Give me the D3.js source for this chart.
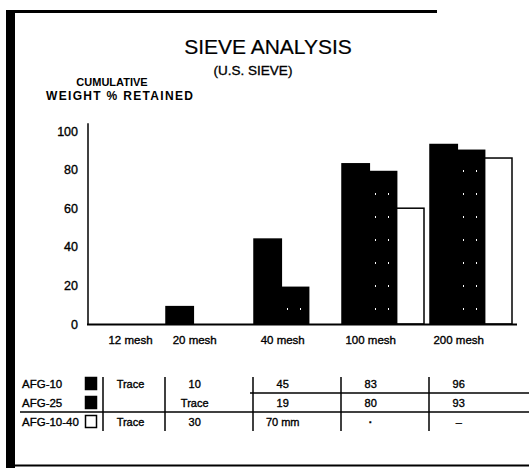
<!DOCTYPE html>
<html>
<head>
<meta charset="utf-8">
<script src="https://cdn.jsdelivr.net/npm/d3@7"></script>
<style>
  html, body { margin: 0; padding: 0; background: #fff; }
  svg { display: block; font-family: "Liberation Sans", Arial, Helvetica, sans-serif; }
  svg text { stroke: #000; stroke-width: 0.35px; }
</style>
</head>
<body>
<div id="chartEl"></div>
<script>
const categories = ['12 mesh', '20 mesh', '40 mesh', '100 mesh', '200 mesh'];
const seriesNames = ['AFG-10', 'AFG-25', 'AFG-10-40'];
const afg10 = [0, 9, 44, 83, 93];
const afg25 = [0, 0, 19, 79, 90];
const afg1040 = [0, 0, 0, 60, 86];
const yTicks = [0, 20, 40, 60, 80, 100];

// table printed under the chart
const afg10Cells = ['Trace', '10', '45', '83', '96'];
const afg25Cells = ['', 'Trace', '19', '80', '93'];
const afg1040Cells = ['Trace', '30', '70 mm', '\u00b7', '\u2013'];

function draw () {
  const width = 529;
  const height = 468;
  const font = '"Liberation Sans", Arial, Helvetica, sans-serif';

  const svg = d3.select('#chartEl').append('svg')
    .attr('width', width)
    .attr('height', height);

  // frame: heavy left edge, top and bottom rules
  svg.append('rect').attr('x', 6).attr('y', 12).attr('width', 9).attr('height', 456).attr('fill', '#000');
  svg.append('line').attr('x1', 6).attr('x2', 437).attr('y1', 11.5).attr('y2', 11.5)
    .attr('stroke', '#000').attr('stroke-width', 3);
  svg.append('line').attr('x1', 15).attr('x2', 529).attr('y1', 465.5).attr('y2', 465.5)
    .attr('stroke', '#000').attr('stroke-width', 2);

  // speckled fill for AFG-25
  const defs = svg.append('defs');
  const pat = defs.append('pattern').attr('id', 'speck')
    .attr('patternUnits', 'userSpaceOnUse').attr('width', 13).attr('height', 23);
  pat.append('rect').attr('width', 13).attr('height', 23).attr('fill', '#000');
  pat.append('rect').attr('x', 7).attr('y', 9).attr('width', 1).attr('height', 2).attr('fill', '#fff');

  const fills = ['#000', 'url(#speck)', '#fff'];

  // titles
  svg.append('text').attr('x', 268).attr('y', 54).attr('text-anchor', 'middle')
    .attr('font-size', 21).style('stroke-width', '0.2px').text('SIEVE ANALYSIS');
  svg.append('text').attr('x', 253).attr('y', 75).attr('text-anchor', 'middle')
    .attr('font-size', 13.5).text('(U.S. SIEVE)');
  svg.append('text').attr('x', 112).attr('y', 86).attr('text-anchor', 'middle')
    .attr('font-size', 11).attr('font-weight', 'bold').style('stroke-width', '0px')
    .text('CUMULATIVE');
  svg.append('text').attr('x', 46).attr('y', 100)
    .attr('font-size', 12).attr('font-weight', 'bold').style('stroke-width', '0px')
    .attr('textLength', 147).attr('lengthAdjust', 'spacing')
    .text('WEIGHT % RETAINED');

  const x0 = d3.scaleBand()
    .domain(categories)
    .range([78, 518]);

  const x1 = d3.scaleBand()
    .domain(seriesNames)
    .range([0, 82]);

  const y = d3.scaleLinear()
    .domain([0, 100])
    .range([324, 131]);

  const yAxis = d3.axisLeft(y).tickValues(yTicks).tickSize(0).tickPadding(10);
  const gy = svg.append('g')
    .attr('transform', 'translate(88,0)')
    .call(yAxis);
  gy.select('.domain').remove();
  gy.selectAll('text').attr('font-size', 12.5).attr('font-family', font).attr('fill', '#000');

  const rows = categories.map((c, i) => ({cat: c, values: [afg10[i], afg25[i], afg1040[i]]}));

  const group = svg.selectAll('.grp')
    .data(rows)
    .enter().append('g')
    .attr('class', 'grp')
    .attr('transform', d => 'translate(' + x0(d.cat) + ',0)');

  group.selectAll('rect')
    .data(d => d.values.map((v, k) => ({name: seriesNames[k], v: v, k: k})).filter(e => e.v > 0))
    .enter().append('rect')
    .attr('x', d => x1(d.name))
    .attr('y', d => y(d.v))
    .attr('width', x1.bandwidth())
    .attr('height', d => y(0) - y(d.v))
    .attr('fill', d => fills[d.k])
    .attr('stroke', '#000')
    .attr('stroke-width', 1.5);

  // axis lines
  svg.append('line').attr('x1', 88).attr('x2', 88).attr('y1', y(104)).attr('y2', y(0) + 1)
    .attr('stroke', '#000').attr('stroke-width', 1.5);
  svg.append('line').attr('x1', 87).attr('x2', 517).attr('y1', y(0) + 0.5).attr('y2', y(0) + 0.5)
    .attr('stroke', '#000').attr('stroke-width', 2);

  // column centres, shared by axis labels and table cells
  const firstSep = 103;
  const colCenter = (c, i) => i === 0
    ? (firstSep + x0(categories[1])) / 2 - 4
    : x0(c) + x1.bandwidth() * 1.05;

  svg.selectAll('.xlab')
    .data(categories)
    .enter().append('text')
    .attr('class', 'xlab')
    .attr('x', colCenter)
    .attr('y', 344)
    .attr('text-anchor', 'middle')
    .attr('font-size', 11.5)
    .text(d => d);

  // table
  const rowY = d3.scaleBand().domain(seriesNames).range([374, 431]);
  const cells = [afg10Cells, afg25Cells, afg1040Cells];

  const tr = svg.selectAll('.trow')
    .data(seriesNames)
    .enter().append('g')
    .attr('class', 'trow')
    .attr('transform', d => 'translate(0,' + (rowY(d) + rowY.bandwidth() / 2) + ')');

  tr.append('text').attr('x', 22).attr('y', 4).attr('font-size', 11.5).text(d => d);
  tr.append('rect')
    .attr('x', 85.5).attr('y', -6).attr('width', 11).attr('height', 12)
    .attr('fill', (d, i) => fills[i])
    .attr('stroke', '#000').attr('stroke-width', 1.5);

  tr.selectAll('.cell')
    .data((d, i) => cells[i])
    .enter().append('text')
    .attr('class', 'cell')
    .attr('x', (d, j) => colCenter(categories[j], j))
    .attr('y', 4)
    .attr('text-anchor', 'middle')
    .attr('font-size', 11)
    .attr('font-weight', (d) => d === '\u00b7' ? 'bold' : 'normal')
    .text(d => d);

  // row rules
  svg.append('line').attr('x1', 250).attr('x2', 529)
    .attr('y1', rowY(seriesNames[1])).attr('y2', rowY(seriesNames[1]))
    .attr('stroke', '#000').attr('stroke-width', 1.5);
  svg.append('line').attr('x1', 20).attr('x2', 529)
    .attr('y1', rowY(seriesNames[2])).attr('y2', rowY(seriesNames[2]))
    .attr('stroke', '#000').attr('stroke-width', 1.5);

  // column separators
  const seps = [firstSep].concat(categories.slice(1).map(c => x0(c) - 1));
  svg.selectAll('.sep')
    .data(seps)
    .enter().append('line')
    .attr('class', 'sep')
    .attr('x1', d => d).attr('x2', d => d)
    .attr('y1', 377).attr('y2', 431)
    .attr('stroke', '#000').attr('stroke-width', 1.5);
}

draw();
</script>
</body>
</html>
